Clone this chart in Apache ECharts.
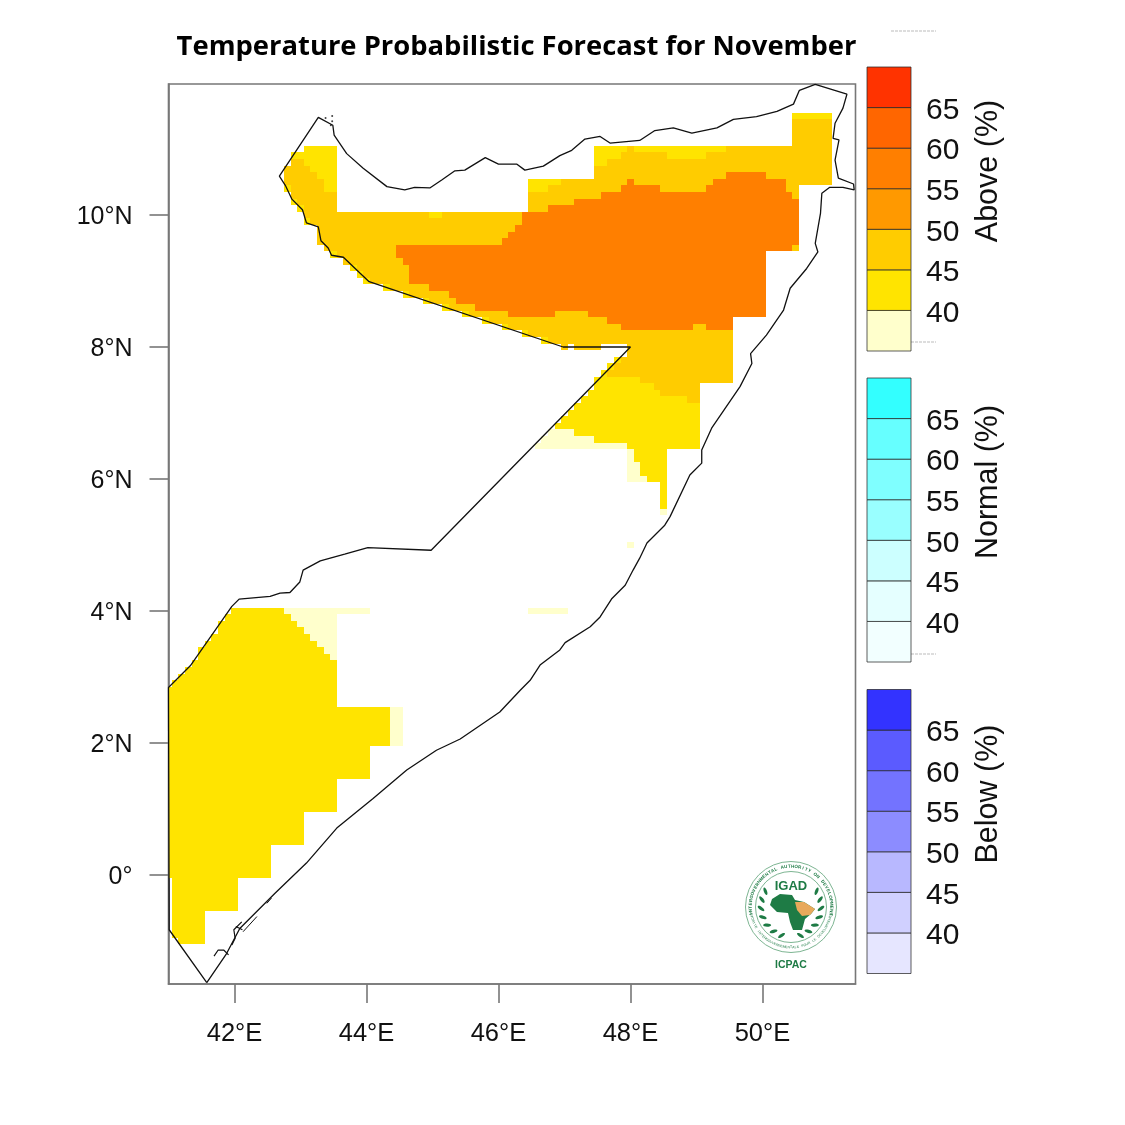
<!DOCTYPE html>
<html>
<head>
<meta charset="utf-8">
<title>Temperature Probabilistic Forecast for November</title>
<script src="https://cdn.jsdelivr.net/npm/echarts@6/dist/echarts.min.js"></script>
<style>
html, body { margin: 0; padding: 0; background: #fff; }
#main { width: 1125px; height: 1125px; }
</style>
</head>
<body>
<div id="main"></div>
<script>
var lonTicks = [42, 44, 46, 48, 50];
var latTicks = [0, 2, 4, 6, 8, 10];
var legendBreaks = [35, 40, 45, 50, 55, 60, 65, 70];
var legendLabels = [40, 45, 50, 55, 60, 65];

// forecast cells, each row is [latS, latN, lonW, lonE]
var cells4045 = [
	[11.45, 11.55, 50.45, 51.05],
	[10.95, 11.05, 43.05, 43.55], [10.95, 11.05, 47.45, 47.95], [10.95, 11.05, 48.05, 49.45],
	[10.85, 10.95, 42.85, 43.55], [10.85, 10.95, 47.45, 47.85], [10.85, 10.95, 48.55, 49.15],
	[10.75, 10.85, 43.05, 43.55], [10.75, 10.85, 47.45, 47.65],
	[10.65, 10.75, 43.15, 43.55], [10.55, 10.65, 43.25, 43.55], [10.35, 10.55, 43.35, 43.55],
	[10.45, 10.55, 46.45, 46.95], [10.35, 10.45, 46.45, 46.75], [9.95, 10.05, 44.95, 45.15],
	[10.35, 10.45, 42.75, 42.85], [10.15, 10.25, 42.85, 42.95], [10.05, 10.15, 42.95, 43.05],
	[9.85, 9.95, 43.05, 43.15], [9.35, 9.45, 43.45, 43.55], [9.15, 9.25, 43.75, 43.85],
	[9.05, 9.15, 43.85, 43.95], [8.95, 9.05, 43.95, 44.05], [8.85, 8.95, 44.25, 44.35],
	[8.75, 8.85, 44.55, 44.65], [8.65, 8.75, 44.85, 44.95], [8.55, 8.65, 45.15, 45.25],
	[8.45, 8.55, 45.45, 45.55], [8.35, 8.45, 45.75, 45.85], [8.25, 8.35, 46.05, 46.15],
	[8.15, 8.25, 46.35, 46.45], [8.05, 8.15, 46.65, 46.75],
	[7.75, 7.85, 47.75, 47.85], [7.65, 7.75, 47.65, 47.75], [7.55, 7.65, 47.55, 47.65],
	[7.45, 7.55, 47.45, 48.15], [7.35, 7.45, 47.45, 48.35], [7.25, 7.35, 47.35, 48.45],
	[7.15, 7.25, 47.25, 48.85], [7.05, 7.15, 47.15, 49.05], [6.95, 7.05, 47.05, 49.05],
	[6.85, 6.95, 46.95, 49.05], [6.75, 6.85, 46.85, 49.05], [6.65, 6.75, 47.15, 49.05],
	[6.55, 6.65, 47.45, 49.05], [6.45, 6.55, 47.95, 49.05], [6.25, 6.45, 48.05, 48.55],
	[6.05, 6.25, 48.15, 48.55], [5.95, 6.05, 48.25, 48.55], [5.55, 5.95, 48.45, 48.55],
	[3.95, 4.05, 41.95, 42.75], [3.85, 3.95, 41.85, 42.85], [3.75, 3.85, 41.75, 42.95],
	[3.65, 3.75, 41.75, 43.05], [3.55, 3.65, 41.65, 43.15], [3.45, 3.55, 41.55, 43.25],
	[3.35, 3.45, 41.45, 43.35], [3.25, 3.35, 41.45, 43.45], [3.15, 3.25, 41.35, 43.55],
	[3.05, 3.15, 41.25, 43.55], [2.95, 3.05, 41.15, 43.55], [2.85, 2.95, 41.05, 43.55],
	[2.55, 2.85, 41.0, 43.55], [1.95, 2.55, 41.0, 44.35], [1.45, 1.95, 41.0, 44.05],
	[0.95, 1.45, 41.0, 43.55], [0.45, 0.95, 41.0, 43.05], [-0.05, 0.45, 41.0, 42.55],
	[-0.55, -0.05, 41.05, 42.05], [-0.95, -0.55, 41.05, 41.55], [-1.05, -0.95, 41.15, 41.55]
];
var cells3540 = [
	[6.65, 6.75, 46.75, 47.15], [6.55, 6.65, 46.65, 47.45], [6.45, 6.55, 46.55, 47.95],
	[6.25, 6.45, 47.95, 48.05], [6.05, 6.25, 47.95, 48.15], [5.95, 6.05, 47.95, 48.25],
	[5.45, 5.55, 48.45, 48.55], [4.95, 5.05, 47.95, 48.05], [3.95, 4.05, 46.45, 47.05],
	[3.95, 4.05, 42.75, 44.05], [3.85, 3.95, 42.85, 43.55], [3.75, 3.85, 42.95, 43.55],
	[3.65, 3.75, 43.05, 43.55], [3.55, 3.65, 43.15, 43.55], [3.45, 3.55, 43.25, 43.55],
	[3.35, 3.45, 43.35, 43.55], [3.25, 3.35, 43.45, 43.55], [1.95, 2.55, 44.35, 44.55]
];
var cells4550 = [
	[11.05, 11.45, 50.45, 51.05],
	[10.95, 11.05, 47.95, 48.05], [10.95, 11.05, 49.45, 51.05],
	[10.85, 10.95, 47.85, 48.55], [10.85, 10.95, 49.15, 51.05],
	[10.75, 10.85, 47.65, 51.05], [10.55, 10.75, 47.45, 51.05], [10.45, 10.55, 46.95, 51.05],
	[10.35, 10.45, 46.75, 50.55], [10.05, 10.35, 46.45, 50.55],
	[10.75, 10.85, 42.85, 43.05], [10.65, 10.75, 42.75, 43.15], [10.55, 10.65, 42.75, 43.25],
	[10.45, 10.55, 42.75, 43.35], [10.35, 10.45, 42.85, 43.35],
	[10.25, 10.35, 42.85, 43.55], [10.15, 10.25, 42.95, 43.55], [10.05, 10.15, 43.05, 43.55],
	[9.95, 10.05, 43.05, 50.55], [9.85, 9.95, 43.15, 50.55], [9.55, 9.85, 43.25, 50.55],
	[9.45, 9.55, 43.35, 50.55], [9.35, 9.45, 43.55, 50.05], [9.25, 9.35, 43.65, 50.05],
	[9.15, 9.25, 43.85, 50.05], [9.05, 9.15, 43.95, 50.05], [8.95, 9.05, 44.05, 50.05],
	[8.85, 8.95, 44.35, 50.05], [8.75, 8.85, 44.65, 50.05], [8.65, 8.75, 44.95, 50.05],
	[8.55, 8.65, 45.25, 50.05], [8.45, 8.55, 45.55, 50.05], [8.35, 8.45, 45.85, 49.55],
	[8.25, 8.35, 46.15, 49.55], [8.15, 8.25, 46.45, 49.55], [8.05, 8.15, 46.75, 49.55],
	[7.95, 8.05, 46.95, 47.05], [7.95, 8.05, 47.15, 47.55], [7.95, 8.05, 47.95, 49.55],
	[7.85, 7.95, 47.95, 49.55], [7.75, 7.85, 47.85, 49.55], [7.65, 7.75, 47.75, 49.55],
	[7.55, 7.65, 47.65, 49.55], [7.45, 7.55, 48.15, 49.55], [7.35, 7.45, 48.35, 49.05],
	[7.25, 7.35, 48.45, 49.05], [7.15, 7.25, 48.85, 49.05]
];
var cells5560 = [
	[10.55, 10.65, 49.45, 50.05],
	[10.45, 10.55, 47.95, 48.05], [10.45, 10.55, 49.25, 50.35],
	[10.35, 10.45, 47.85, 48.45], [10.35, 10.45, 49.15, 50.35],
	[10.25, 10.35, 47.55, 50.45], [10.15, 10.25, 47.15, 50.55], [10.05, 10.15, 46.75, 50.55],
	[9.85, 10.05, 46.35, 50.55], [9.75, 9.85, 46.25, 50.55], [9.65, 9.75, 46.15, 50.55],
	[9.55, 9.65, 46.05, 50.55], [9.45, 9.55, 44.45, 50.45], [9.35, 9.45, 44.45, 50.05],
	[9.25, 9.35, 44.55, 50.05], [8.95, 9.25, 44.65, 50.05], [8.85, 8.95, 44.95, 50.05],
	[8.75, 8.85, 45.25, 50.05], [8.65, 8.75, 45.35, 50.05], [8.55, 8.65, 45.65, 50.05],
	[8.45, 8.55, 46.15, 46.85], [8.45, 8.55, 47.35, 50.05],
	[8.35, 8.45, 47.65, 49.55], [8.25, 8.35, 47.85, 48.95], [8.25, 8.35, 49.15, 49.55]
];

// country outline as [lon, lat]
var outline = [
	[41.58, -1.63], [41.01, -0.83], [41.0, 2.84], [41.33, 3.17], [41.96, 4.07], [42.07, 4.18],
	[42.54, 4.22], [42.69, 4.27], [42.84, 4.28], [42.99, 4.44], [43.04, 4.62], [43.30, 4.76],
	[43.67, 4.86], [44.02, 4.96], [44.98, 4.92], [48.0, 8.0], [46.98, 8.0], [44.04, 8.99],
	[43.90, 9.12], [43.65, 9.36], [43.47, 9.39], [43.42, 9.50], [43.31, 9.61], [43.27, 9.82],
	[43.09, 9.88], [43.03, 10.08], [42.87, 10.24], [42.77, 10.45], [42.68, 10.59], [43.27, 11.48],
	[43.49, 11.36], [43.51, 11.21], [43.70, 10.93], [43.95, 10.71], [44.31, 10.43], [44.58, 10.38],
	[44.73, 10.42], [44.96, 10.41], [45.14, 10.53], [45.34, 10.67], [45.49, 10.68], [45.80, 10.87],
	[46.00, 10.77], [46.28, 10.77], [46.40, 10.68], [46.68, 10.74], [46.93, 10.90], [47.11, 10.98],
	[47.31, 11.15], [47.54, 11.19], [47.69, 11.09], [48.14, 11.13], [48.37, 11.28], [48.65, 11.32],
	[48.93, 11.24], [49.31, 11.32], [49.56, 11.45], [49.91, 11.49], [50.22, 11.57], [50.47, 11.68],
	[50.56, 11.89], [50.80, 11.98], [51.28, 11.83], [51.22, 11.62], [51.10, 11.39], [51.07, 11.16],
	[51.16, 11.14], [51.10, 10.83], [51.15, 10.56], [51.38, 10.47], [51.39, 10.38], [51.22, 10.42],
	[51.02, 10.42], [50.90, 10.33], [50.88, 10.03], [50.80, 9.57], [50.84, 9.44], [50.67, 9.19],
	[50.42, 8.89], [50.32, 8.56], [50.06, 8.18], [49.82, 7.90], [49.84, 7.75], [49.66, 7.40],
	[49.23, 6.77], [49.08, 6.44], [49.08, 6.24], [48.90, 6.06], [48.60, 5.43], [48.52, 5.30],
	[48.25, 5.03], [48.14, 4.80], [48.04, 4.62], [47.92, 4.39], [47.72, 4.19], [47.54, 3.91],
	[47.39, 3.76], [47.01, 3.52], [46.93, 3.41], [46.63, 3.18], [46.48, 2.95], [46.33, 2.80],
	[46.02, 2.47], [45.42, 2.06], [45.06, 1.89], [44.61, 1.59], [44.10, 1.16], [43.55, 0.71],
	[43.09, 0.18], [42.61, -0.28], [42.08, -0.81], [41.88, -1.19], [41.58, -1.63]
];
var islandA = [[41.69, -1.23], [41.75, -1.14], [41.84, -1.14], [41.91, -1.21]];
var islandB = [[41.96, -1.06], [42.01, -0.96], [41.99, -0.83], [42.11, -0.71]];
var islandC = [[42.02, -0.78], [42.12, -0.83]];
var islandD = [[42.13, -0.86], [42.34, -0.63]];
var islandE = [[42.49, -0.43], [42.56, -0.35]];
var islandDots = [[43.48, 11.50], [43.48, 11.42], [43.46, 11.36], [43.38, 11.47]];

var colors3540 = '#FFFFCC', colors4045 = '#FFE400', colors4550 = '#FFCC00', colors5560 = '#FF7F00';
var aboveColors = ['#FFFFCC', '#FFE400', '#FFCC00', '#FF9900', '#FF7F00', '#FF6600', '#FF3300'];
var normalColors = ['#F2FFFF', '#E5FFFF', '#CCFFFF', '#99FFFF', '#7FFFFF', '#66FFFF', '#33FFFF'];
var belowColors = ['#E6E6FF', '#D0D0FF', '#B8B8FF', '#8C8CFF', '#7373FF', '#5B5BFF', '#3333FF'];

var textFont = '"Liberation Sans", Arial, sans-serif';
var axisGrey = '#777';

function cellSeries(cells, color) {
	return {
		type: 'custom',
		xAxisIndex: 0,
		yAxisIndex: 0,
		data: cells,
		silent: true,
		renderItem: function(params, api) {
			// snap to whole pixels so rows don't show seams
			var p0 = api.coord([api.value(2), api.value(1)]);
			var p1 = api.coord([api.value(3), api.value(0)]);
			var x0 = Math.round(p0[0]), y0 = Math.round(p0[1]);
			return {
				type: 'rect',
				shape: { x: x0, y: y0, width: Math.round(p1[0]) - x0, height: Math.round(p1[1]) - y0 },
				style: { fill: color }
			};
		}
	};
}

function lineSeries(points, width) {
	return {
		type: 'line',
		xAxisIndex: 0,
		yAxisIndex: 0,
		data: points,
		showSymbol: false,
		silent: true,
		z: 5,
		lineStyle: { color: '#111', width: width }
	};
}

function legendSeries(index, colors) {
	var bands = [];
	for (var i = 0; i < colors.length; i++) {
		bands.push([legendBreaks[i], legendBreaks[i + 1]]);
	}
	return {
		type: 'custom',
		xAxisIndex: index,
		yAxisIndex: index,
		data: bands,
		silent: true,
		renderItem: function(params, api) {
			var p0 = api.coord([0, api.value(1)]);
			var p1 = api.coord([1, api.value(0)]);
			return {
				type: 'rect',
				shape: { x: p0[0], y: p0[1], width: p1[0] - p0[0], height: p1[1] - p0[1] },
				style: { fill: colors[params.dataIndex], stroke: 'rgba(40,40,40,0.75)', lineWidth: 1 }
			};
		}
	};
}

function rotatedName(text, y) {
	return {
		type: 'text',
		x: 989,
		y: y,
		rotation: Math.PI / 2,
		style: { text: text, fontFamily: textFont, fontSize: 30.5, fill: '#111', align: 'center', verticalAlign: 'middle' }
	};
}

function tinyNote(x0, x1, y) {
	return {
		type: 'line',
		shape: { x1: x0, y1: y, x2: x1, y2: y },
		style: { stroke: '#bbb', lineWidth: 1, lineDash: [3, 1] }
	};
}

// IGAD logo, drawn as plain decoration
function logoElements() {
	var green = '#1E7B45';
	var cx = 791, cy = 907;
	var out = [
		{ type: 'circle', shape: { cx: cx, cy: cy, r: 45.5 }, style: { fill: 'none', stroke: '#7DB592', lineWidth: 1 } },
		{ type: 'circle', shape: { cx: cx, cy: cy, r: 35.5 }, style: { fill: 'none', stroke: '#7DB592', lineWidth: 1 } },
		{ type: 'text', x: cx, y: 886, style: { text: 'IGAD', fontFamily: textFont, fontWeight: 'bold', fontSize: 13, fill: green, align: 'center', verticalAlign: 'middle' } },
		{ type: 'text', x: cx, y: 965, style: { text: 'ICPAC', fontFamily: textFont, fontWeight: 'bold', fontSize: 10.5, fill: green, align: 'center', verticalAlign: 'middle' } },
		{ type: 'polygon', shape: { points: [[772, 899], [780, 894], [792, 895], [795, 900], [804, 902], [815, 909], [811, 914], [805, 919], [802, 930], [793, 930], [790, 922], [788, 913], [777, 912], [770, 905]] }, style: { fill: green } },
		{ type: 'polygon', shape: { points: [[795, 902], [804, 902], [815, 909], [810, 915], [802, 916], [797, 910]] }, style: { fill: '#E8A95B' } }
	];
	var top = 'INTERGOVERNMENTAL AUTHORITY ON DEVELOPMENT';
	var bottom = 'AUTORITE INTERGOUVERNEMENTALE POUR LE DEVELOPPEMENT';
	var i, a;
	for (i = 0; i < top.length; i++) {
		a = -1.75 + 3.5 * i / (top.length - 1);
		out.push({ type: 'text', x: cx + 40.5 * Math.sin(a), y: cy - 40.5 * Math.cos(a), rotation: -a,
			style: { text: top[i], fontFamily: textFont, fontWeight: 'bold', fontSize: 4.5, fill: green, align: 'center', verticalAlign: 'middle' } });
	}
	for (i = 0; i < bottom.length; i++) {
		a = -1.45 + 2.9 * i / (bottom.length - 1);
		out.push({ type: 'text', x: cx + 40.5 * Math.sin(a), y: cy + 40.5 * Math.cos(a), rotation: a,
			style: { text: bottom[i], fontFamily: textFont, fontSize: 3.4, fill: green, align: 'center', verticalAlign: 'middle' } });
	}
	// laurel leaves on both sides
	for (i = 0; i < 7; i++) {
		a = 0.35 + i * 0.3;
		out.push({ type: 'ellipse', x: cx - 30 * Math.cos(a - 0.9), y: cy + 30 * Math.sin(a - 0.9), rotation: a, shape: { cx: 0, cy: 0, rx: 1.6, ry: 4 }, style: { fill: green } });
		out.push({ type: 'ellipse', x: cx + 30 * Math.cos(a - 0.9), y: cy + 30 * Math.sin(a - 0.9), rotation: -a, shape: { cx: 0, cy: 0, rx: 1.6, ry: 4 }, style: { fill: green } });
	}
	return out;
}

function legendGrid(top) {
	return { left: 867, top: top, width: 44, height: 284, show: false };
}

function legendX(index) {
	return { type: 'value', gridIndex: index, min: 0, max: 1, show: false };
}

function legendY(index) {
	return {
		type: 'value',
		gridIndex: index,
		position: 'right',
		min: 35,
		max: 70,
		axisLine: { show: false },
		axisTick: { show: false },
		splitLine: { show: false },
		// small lineHeight with top align nudges the digits down to match
		axisLabel: { customValues: legendLabels, margin: 15, verticalAlign: 'top', lineHeight: 6, fontFamily: textFont, fontSize: 30, color: '#111' }
	};
}

var mainChart = echarts.init(document.getElementById('main'));

var chartOpt = {
	animation: false,
	backgroundColor: '#fff',
	title: {
		text: 'Temperature Probabilistic Forecast for November',
		left: 511.5,
		top: 28.5,
		textAlign: 'center',
		textStyle: { fontFamily: '"Open Sans", sans-serif', fontWeight: 'bold', fontSize: 27.4, color: '#000' }
	},
	grid: [
		{ left: 168.5, top: 84, width: 687, height: 900, show: true, borderColor: axisGrey, borderWidth: 1.6, backgroundColor: '#fff' },
		legendGrid(67),
		legendGrid(378),
		legendGrid(689.5)
	],
	xAxis: [
		{
			type: 'value',
			gridIndex: 0,
			min: 41,
			max: 51.41,
			splitLine: { show: false },
			axisLine: { onZero: false, lineStyle: { color: axisGrey, width: 1.6 } },
			axisTick: { customValues: lonTicks, length: 19, lineStyle: { color: axisGrey, width: 1.6 } },
			axisLabel: {
				customValues: lonTicks,
				margin: 37,
				fontFamily: textFont,
				fontSize: 25.5,
				color: '#111',
				formatter: function(v) { return v + '°E'; }
			}
		},
		legendX(1), legendX(2), legendX(3)
	],
	yAxis: [
		{
			type: 'value',
			gridIndex: 0,
			min: -1.652,
			max: 11.985,
			splitLine: { show: false },
			axisLine: { onZero: false, lineStyle: { color: axisGrey, width: 1.6 } },
			axisTick: { customValues: latTicks, length: 19, lineStyle: { color: axisGrey, width: 1.6 } },
			axisLabel: {
				customValues: latTicks,
				margin: 36,
				verticalAlign: 'top',
				lineHeight: 4,
				fontFamily: textFont,
				fontSize: 25,
				color: '#111',
				formatter: function(v) { return v === 0 ? '0°' : v + '°N'; }
			}
		},
		legendY(1), legendY(2), legendY(3)
	],
	series: [
		cellSeries(cells4550, colors4550),
		cellSeries(cells4045, colors4045),
		cellSeries(cells3540, colors3540),
		cellSeries(cells5560, colors5560),
		lineSeries(outline, 1.3),
		lineSeries(islandA, 1.2),
		lineSeries(islandB, 1.2),
		lineSeries(islandC, 1.2),
		lineSeries(islandD, 1),
		lineSeries(islandE, 1),
		{
			type: 'scatter',
			xAxisIndex: 0,
			yAxisIndex: 0,
			data: islandDots,
			symbolSize: 2,
			silent: true,
			itemStyle: { color: '#111' }
		},
		legendSeries(1, aboveColors),
		legendSeries(2, normalColors),
		legendSeries(3, belowColors)
	],
	graphic: {
		elements: [
			rotatedName('Above (%)', 171),
			rotatedName('Normal (%)', 482),
			rotatedName('Below (%)', 794),
			tinyNote(891, 936, 31),
			tinyNote(911, 936, 342),
			tinyNote(911, 936, 654)
		].concat(logoElements())
	}
};

mainChart.setOption(chartOpt);
</script>
</body>
</html>
